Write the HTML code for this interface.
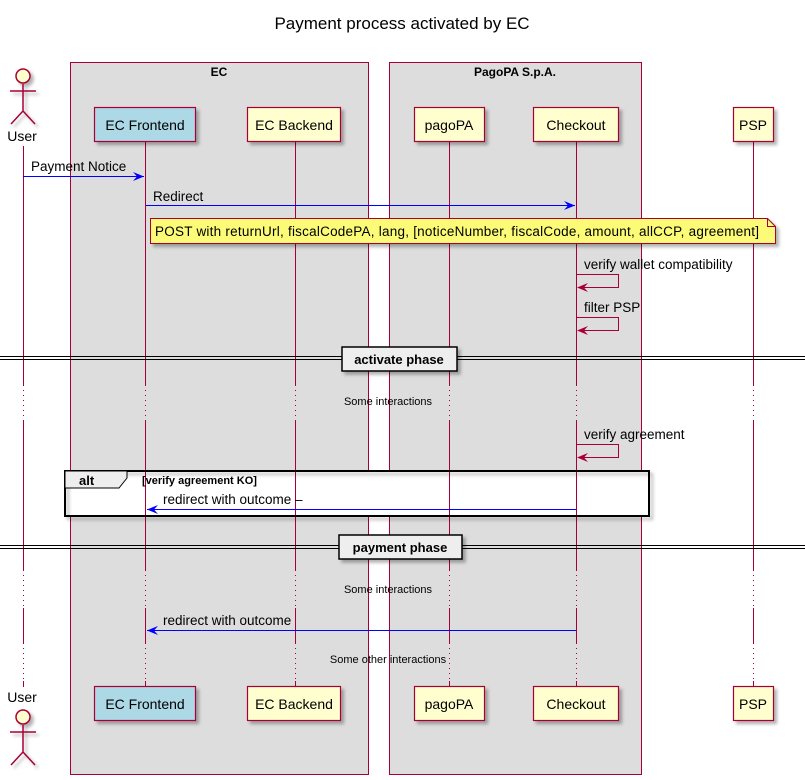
<!DOCTYPE html>
<html><head><meta charset="utf-8"><style>
html,body{margin:0;padding:0;background:#fff;}
svg{display:block;font-family:"Liberation Sans","DejaVu Sans",sans-serif;}
</style></head><body>
<svg width="805" height="780" viewBox="0 0 805 780" xmlns="http://www.w3.org/2000/svg">
<defs>
<filter id="sh" x="-10%" y="-10%" width="130%" height="140%"><feDropShadow dx="3" dy="3" stdDeviation="1.5" flood-color="#000" flood-opacity="0.3"/></filter>
</defs>
<text x="402" y="29" font-size="17" text-anchor="middle" fill="#000">Payment process activated by EC</text>
<rect x="70.5" y="62.5" width="298" height="712" fill="#dddddd" stroke="#a80036" stroke-width="1"/>
<text x="219" y="76" font-size="12" font-weight="bold" text-anchor="middle">EC</text>
<rect x="389.5" y="62.5" width="252" height="712" fill="#dddddd" stroke="#a80036" stroke-width="1"/>
<text x="515" y="76" font-size="12" font-weight="bold" text-anchor="middle">PagoPA S.p.A.</text>
<rect x="65" y="471" width="584" height="45" fill="#fff"/>
<g stroke="#a80036" stroke-width="1">
<line x1="23.5" y1="146" x2="23.5" y2="687"/>
<line x1="145.5" y1="141" x2="145.5" y2="687"/>
<line x1="295.5" y1="141" x2="295.5" y2="687"/>
<line x1="449.5" y1="141" x2="449.5" y2="687"/>
<line x1="576.5" y1="141" x2="576.5" y2="687"/>
<line x1="753.5" y1="141" x2="753.5" y2="687"/>
</g>
<g stroke="#a80036" stroke-width="1.2" filter="url(#sh)">
<rect x="94.5" y="107.5" width="101" height="34" fill="#add8e6"/>
<rect x="247.5" y="107.5" width="93" height="34" fill="#fefece"/>
<rect x="414.5" y="107.5" width="70" height="34" fill="#fefece"/>
<rect x="533.5" y="107.5" width="85" height="34" fill="#fefece"/>
<rect x="733.5" y="107.5" width="40" height="34" fill="#fefece"/>
<rect x="94.5" y="686.5" width="101" height="34" fill="#add8e6"/>
<rect x="247.5" y="686.5" width="93" height="34" fill="#fefece"/>
<rect x="414.5" y="686.5" width="70" height="34" fill="#fefece"/>
<rect x="533.5" y="686.5" width="85" height="34" fill="#fefece"/>
<rect x="733.5" y="686.5" width="40" height="34" fill="#fefece"/>
</g>
<g font-size="14" text-anchor="middle" fill="#000">
<text x="145" y="130">EC Frontend</text><text x="294" y="130">EC Backend</text>
<text x="449" y="130">pagoPA</text><text x="576" y="130">Checkout</text><text x="753" y="130">PSP</text>
<text x="145" y="709">EC Frontend</text><text x="294" y="709">EC Backend</text>
<text x="449" y="709">pagoPA</text><text x="576" y="709">Checkout</text><text x="753" y="709">PSP</text>
<text x="22" y="141">User</text><text x="22" y="702">User</text>
</g>
<g stroke="#a80036" stroke-width="1.5" fill="none" filter="url(#sh)">
<circle cx="23" cy="76" r="7" fill="#fefece"/>
<path d="M23 84 V111 M10 91 H36 M23 111 L11 124 M23 111 L35 124"/>
<circle cx="23" cy="717" r="7" fill="#fefece"/>
<path d="M23 725 V752 M10 732 H36 M23 752 L11 765 M23 752 L35 765"/>
</g>
<g font-size="13.5" fill="#000">
<text x="31" y="171">Payment Notice</text>
<text x="153" y="201">Redirect</text>
<text x="584" y="269">verify wallet compatibility</text>
<text x="584" y="312">filter PSP</text>
<text x="584" y="439">verify agreement</text>
<text x="163" y="504">redirect with outcome –</text>
<text x="163" y="625">redirect with outcome</text>
</g>
<g stroke="#0000ff" stroke-width="1" fill="none">
<line x1="23" y1="176.5" x2="144" y2="176.5"/>
<line x1="146" y1="205.5" x2="575" y2="205.5"/>
<line x1="147" y1="509.5" x2="576" y2="509.5"/>
<line x1="147" y1="630.5" x2="576" y2="630.5"/>
</g>
<g fill="#0000ff">
<path d="M144 176.5 L133 172 L137 176.5 L133 181Z"/>
<path d="M575 205.5 L564 201 L568 205.5 L564 210Z"/>
<path d="M147 509.5 L158 505 L154 509.5 L158 514Z"/>
<path d="M147 630.5 L158 626 L154 630.5 L158 635Z"/>
</g>
<g stroke="#a80036" stroke-width="1" fill="none">
<path d="M577 274.5 H618.5 V287.5 H578"/>
<path d="M577 317.5 H618.5 V330.5 H578"/>
<path d="M577 444.5 H618.5 V457.5 H578"/>
</g>
<g fill="#a80036">
<path d="M577 287.5 L588 283 L584 287.5 L588 292Z"/>
<path d="M577 330.5 L588 326 L584 330.5 L588 335Z"/>
<path d="M577 457.5 L588 453 L584 457.5 L588 462Z"/>
</g>
<path d="M150.5 218.5 H767.5 L775.5 226.5 V243.5 H150.5 Z" fill="#fbfb77" stroke="#a80036" filter="url(#sh)"/>
<path d="M767.5 218.5 V226.5 H775.5" fill="none" stroke="#a80036"/>
<text x="155" y="236" font-size="13.5" textLength="604" lengthAdjust="spacing">POST with returnUrl, fiscalCodePA, lang, [noticeNumber, fiscalCode, amount, allCCP, agreement]</text>
<g stroke="#000" stroke-width="1">
<line x1="0" y1="356.5" x2="805" y2="356.5"/><line x1="0" y1="359.5" x2="805" y2="359.5"/>
<line x1="0" y1="545.5" x2="805" y2="545.5"/><line x1="0" y1="548.5" x2="805" y2="548.5"/>
</g>
<rect x="342" y="347" width="115" height="24" fill="#eeeeee" stroke="#000" stroke-width="1.5" filter="url(#sh)"/>
<text x="399" y="364" font-size="13" font-weight="bold" text-anchor="middle">activate phase</text>
<rect x="339" y="535" width="123" height="24" fill="#eeeeee" stroke="#000" stroke-width="1.5" filter="url(#sh)"/>
<text x="400" y="552" font-size="13" font-weight="bold" text-anchor="middle">payment phase</text>
<g>
<rect x="20" y="385" width="8" height="36" fill="#fff"/>
<rect x="143" y="385" width="5" height="36" fill="#ddd"/>
<rect x="293" y="385" width="5" height="36" fill="#ddd"/>
<rect x="447" y="385" width="5" height="36" fill="#ddd"/>
<rect x="574" y="385" width="5" height="36" fill="#ddd"/>
<rect x="751" y="385" width="5" height="36" fill="#fff"/>
<rect x="20" y="570" width="8" height="38" fill="#fff"/>
<rect x="143" y="570" width="5" height="38" fill="#ddd"/>
<rect x="293" y="570" width="5" height="38" fill="#ddd"/>
<rect x="447" y="570" width="5" height="38" fill="#ddd"/>
<rect x="574" y="570" width="5" height="38" fill="#ddd"/>
<rect x="751" y="570" width="5" height="38" fill="#fff"/>
<rect x="20" y="643" width="8" height="38" fill="#fff"/>
<rect x="143" y="643" width="5" height="38" fill="#ddd"/>
<rect x="293" y="643" width="5" height="38" fill="#ddd"/>
<rect x="447" y="643" width="5" height="38" fill="#ddd"/>
<rect x="574" y="643" width="5" height="38" fill="#ddd"/>
<rect x="751" y="643" width="5" height="38" fill="#fff"/>
</g>
<g stroke="#a80036" stroke-width="1" stroke-dasharray="1,4">
<path d="M23.5 385V421 M145.5 385V421 M295.5 385V421 M449.5 385V421 M576.5 385V421 M753.5 385V421"/>
<path d="M23.5 570V608 M145.5 570V608 M295.5 570V608 M449.5 570V608 M576.5 570V608 M753.5 570V608"/>
<path d="M23.5 643V681 M145.5 643V681 M295.5 643V681 M449.5 643V681 M576.5 643V681 M753.5 643V681"/>
</g>
<g font-size="11" text-anchor="middle" fill="#000">
<text x="388" y="405">Some interactions</text>
<text x="388" y="593">Some interactions</text>
<text x="388" y="663">Some other interactions</text>
</g>
<rect x="65" y="471" width="584" height="45" fill="none" stroke="#000" stroke-width="2" filter="url(#sh)"/>
<path d="M65 471 H127 V478 L119 488 H65 Z" fill="#eeeeee" stroke="#000" stroke-width="1"/>
<text x="79" y="485" font-size="13" font-weight="bold">alt</text>
<text x="142" y="484" font-size="11" font-weight="bold">[verify agreement KO]</text>
</svg>
</body></html>
